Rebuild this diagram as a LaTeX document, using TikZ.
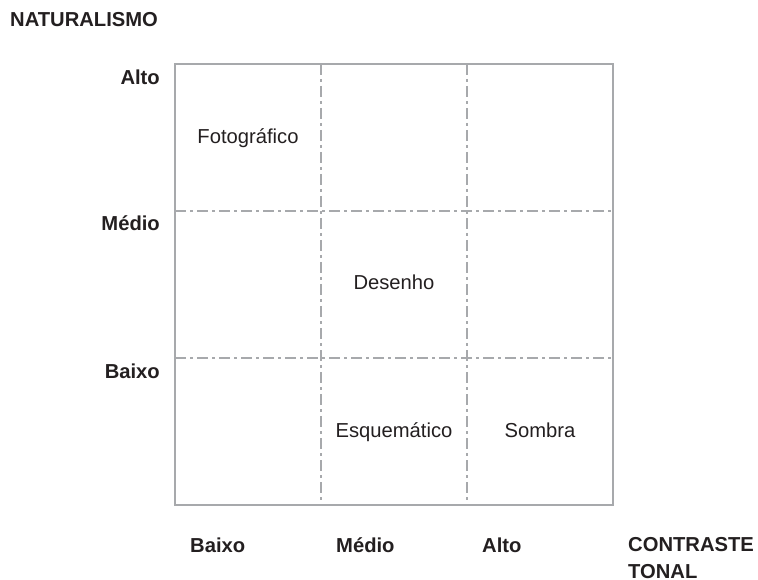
\documentclass[tikz,border=0pt]{standalone}
\usepackage{fontspec}
\setmainfont{Liberation Sans}
\usetikzlibrary{positioning}

\definecolor{inkgray}{RGB}{35,31,32}
\definecolor{linegray}{RGB}{167,169,172}

\begin{document}
\begin{tikzpicture}[x=1pt, y=-1pt,
    every node/.style={font=\fontsize{20.2}{23}\selectfont, text=inkgray, inner sep=0pt},
    axislabel/.style={font=\fontsize{20.2}{23}\selectfont\bfseries},
    gridline/.style={linegray, line width=1.4pt, dash pattern=on 11pt off 4pt on 3pt off 4pt}]
    \useasboundingbox (0,0) rectangle (758,580);

    % Vertical axis title
    \node[axislabel, anchor=base west] (naturalismo) at (10,27) {NATURALISMO};

    % Grid (dash-dot inner lines)
    \draw[gridline] (321,64) -- (321,505);
    \draw[gridline] (467,64) -- (467,505);
    \draw[gridline] (175,211) -- (613,211);
    \draw[gridline] (175,358) -- (613,358);

    % Outer frame
    \draw[linegray, line width=1.4pt] (175,64) rectangle (613,505);

    % Levels on the left
    \node[axislabel, anchor=base east] (altoY) at (160,85) {Alto};
    \node[axislabel, anchor=base east] (medioY) at (160,231) {Médio};
    \node[axislabel, anchor=base east] (baixoY) at (160,378) {Baixo};

    % Levels at the bottom
    \node[axislabel, anchor=base west] (baixoX) at (190,552) {Baixo};
    \node[axislabel, anchor=base west] (medioX) at (336,552) {Médio};
    \node[axislabel, anchor=base west] (altoX) at (482,552) {Alto};
    \node[axislabel, anchor=base west] (contraste) at (628,551) {CONTRASTE};
    \node[axislabel, anchor=base west] (tonal) at ([yshift=-27pt]contraste.base west) {TONAL};

    % Cell entries
    \node[anchor=base] (fotografico) at (248,143.5) {Fotográfico};
    \node[anchor=base] (desenho) at (394,290) {Desenho};
    \node[anchor=base] (esquematico) at (394,437.5) {Esquemático};
    \node[anchor=base] (sombra) at (540,437.5) {Sombra};

\end{tikzpicture}
\end{document}
